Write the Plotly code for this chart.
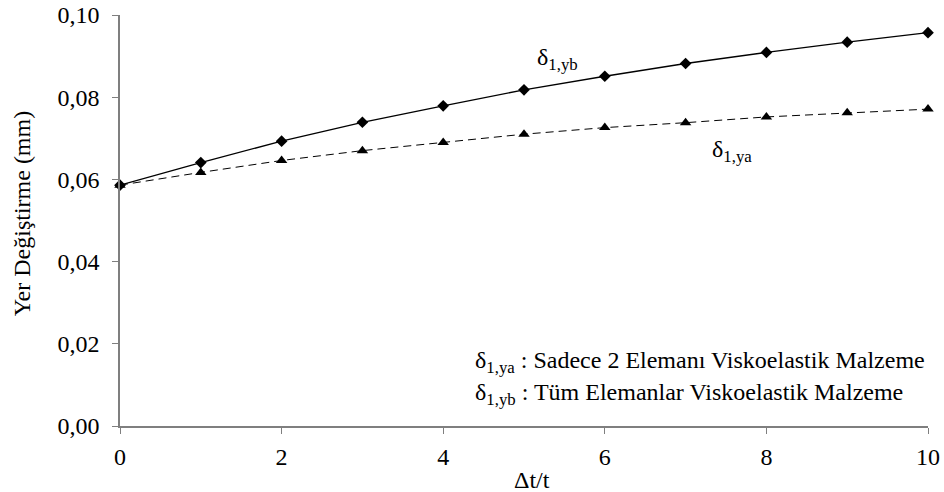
import plotly.graph_objects as go

x_vals = [0, 1, 2, 3, 4, 5, 6, 7, 8, 9, 10]
yb_vals = [0.0586, 0.0641, 0.0693, 0.0739, 0.0779, 0.0818, 0.0851, 0.0882, 0.0909, 0.0934, 0.0957]
ya_vals = [0.0586, 0.0617, 0.0646, 0.0670, 0.0690, 0.0710, 0.0726, 0.0738, 0.0752, 0.0762, 0.0771]
x_ticks = [0, 2, 4, 6, 8, 10]
y_ticks = [0.00, 0.02, 0.04, 0.06, 0.08, 0.10]
y_tick_labels = ["0,00", "0,02", "0,04", "0,06", "0,08", "0,10"]

FONT = "Times New Roman, Liberation Serif, DejaVu Serif, serif"
FS = 24

fig = go.Figure()
fig.add_trace(go.Scatter(
    x=x_vals, y=ya_vals, mode="lines+markers",
    line=dict(color="black", width=1, dash="8px,5px"),
    marker=dict(symbol="triangle-up", size=10, color="black"),
    cliponaxis=False, showlegend=False))
fig.add_trace(go.Scatter(
    x=x_vals, y=yb_vals, mode="lines+markers",
    line=dict(color="black", width=1.3),
    marker=dict(symbol="diamond", size=9, color="black"),
    cliponaxis=False, showlegend=False))

fig.add_annotation(x=5.14, y=0.0893, xref="x", yref="y", xanchor="left", yanchor="middle",
                   text="δ<sub>1,yb</sub>", showarrow=False, font=dict(family=FONT, size=FS, color="black"))
fig.add_annotation(x=7.3, y=0.0668, xref="x", yref="y", xanchor="left", yanchor="middle",
                   text="δ<sub>1,ya</sub>", showarrow=False, font=dict(family=FONT, size=FS, color="black"))
fig.add_annotation(x=0.4369, y=0.155, xref="paper", yref="paper", xanchor="left", yanchor="middle",
                   text="δ<sub>1,ya</sub> : Sadece 2 Elemanı Viskoelastik Malzeme", showarrow=False,
                   font=dict(family=FONT, size=FS, color="black"))
fig.add_annotation(x=0.4369, y=0.079, xref="paper", yref="paper", xanchor="left", yanchor="middle",
                   text="δ<sub>1,yb</sub> : Tüm Elemanlar Viskoelastik Malzeme", showarrow=False,
                   font=dict(family=FONT, size=FS, color="black"))
# axis titles
fig.add_annotation(x=0.51, y=-0.132, xref="paper", yref="paper", xanchor="center", yanchor="middle",
                   text="Δt/t", showarrow=False, font=dict(family=FONT, size=FS, color="black"))
fig.add_annotation(x=-0.121, y=0.518, xref="paper", yref="paper", xanchor="center", yanchor="middle",
                   text="Yer Değiştirme (mm)", textangle=-90, showarrow=False,
                   font=dict(family=FONT, size=24, color="black"))

fig.update_layout(
    width=944, height=492,
    margin=dict(l=120, r=16, t=15, b=66),
    paper_bgcolor="white", plot_bgcolor="white",
    font=dict(family=FONT, size=FS, color="black"),
    xaxis=dict(range=[0, 10], tickvals=x_ticks, ticktext=[str(v) for v in x_ticks],
               showgrid=False, zeroline=False, showline=True, linecolor="#7f7f7f", linewidth=1.5,
               ticks="outside", ticklen=6, tickcolor="#7f7f7f", automargin=False,
               ticklabelstandoff=2,
               tickfont=dict(family=FONT, size=FS, color="black")),
    yaxis=dict(range=[0, 0.1], tickvals=y_ticks, ticktext=y_tick_labels,
               showgrid=False, zeroline=False, showline=True, linecolor="#7f7f7f", linewidth=1.5,
               ticks="outside", ticklen=6, tickcolor="#7f7f7f", automargin=False,
               ticklabelstandoff=8,
               tickfont=dict(family=FONT, size=FS, color="black")),
)

fig.write_html("out.html", config={"displayModeBar": False},
               post_script="document.body.style.margin='0';document.body.style.padding='0';")
